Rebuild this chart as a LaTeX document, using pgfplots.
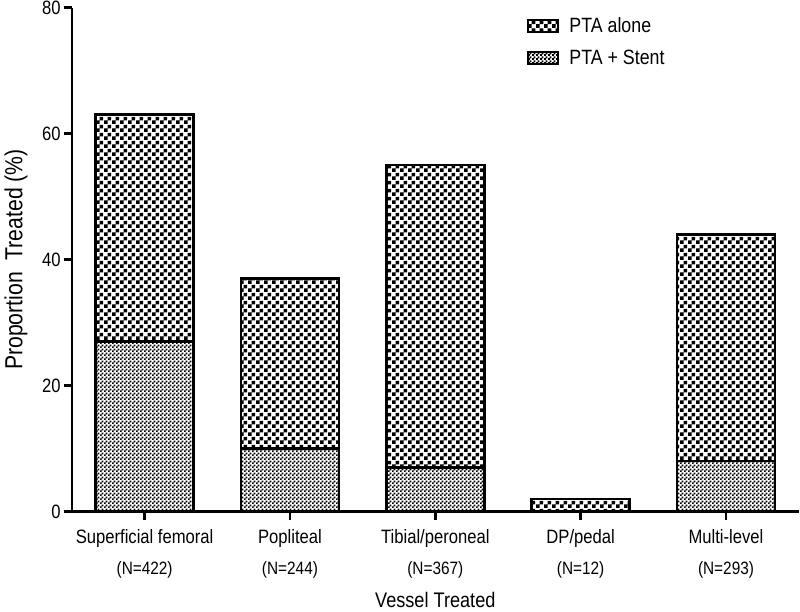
\documentclass[border=0pt]{standalone}
\usepackage{pgfplots}
\pgfplotsset{compat=1.18}
\usepackage{fontspec}
\setmainfont{Liberation Sans}[FakeStretch=0.86]
\usetikzlibrary{patterns}
\pgfdeclarepatternformonly{coarsecheck}{\pgfpointorigin}{\pgfpoint{6pt}{6pt}}{\pgfpoint{6pt}{6pt}}{%
 \pgfpathrectangle{\pgfpointorigin}{\pgfpoint{3pt}{3pt}}%
 \pgfpathrectangle{\pgfpoint{3pt}{3pt}}{\pgfpoint{3pt}{3pt}}%
 \pgfusepath{fill}}
\pgfdeclarepatternformonly{finecheck}{\pgfpointorigin}{\pgfpoint{3pt}{3pt}}{\pgfpoint{3pt}{3pt}}{%
 \pgfpathrectangle{\pgfpointorigin}{\pgfpoint{1.6pt}{1.6pt}}%
 \pgfpathrectangle{\pgfpoint{1.5pt}{1.5pt}}{\pgfpoint{1.6pt}{1.6pt}}%
 \pgfusepath{fill}}
\begin{document}
\begin{tikzpicture}
\begin{axis}[
  scale only axis,
  width=545pt, height=378pt,
  ybar stacked,
  bar width=73.5pt,
  xmin=-0.5, xmax=4.5,
  ymin=0, ymax=80,
  ytick={0,20,40,60,80},
  xtick=data,
  xticklabels={
    {Superficial femoral\\[6.5pt]{\fontsize{13.4}{15}\selectfont (N=422)}},
    {Popliteal\\[6.5pt]{\fontsize{13.4}{15}\selectfont (N=244)}},
    {Tibial/peroneal\\[6.5pt]{\fontsize{13.4}{15}\selectfont (N=367)}},
    {DP/pedal\\[6.5pt]{\fontsize{13.4}{15}\selectfont (N=12)}},
    {Multi-level\\[6.5pt]{\fontsize{13.4}{15}\selectfont (N=293)}}},
  xticklabel style={align=center, font=\fontsize{14.5}{17}\selectfont, yshift=-4pt},
  yticklabel style={font=\fontsize{14.5}{17}\selectfont, xshift=1pt, inner ysep=0.5pt},
  /pgf/number format/assume math mode=true,
  axis x line=bottom, axis y line=left,
  axis line style={-, line width=2pt},
  tick align=outside,
  major tick length=6pt,
  tick style={line width=2pt, black},
  xlabel={Vessel Treated},
  ylabel={Proportion\ \ Treated (\%)},
  xlabel style={font=\fontsize{15.8}{18}\selectfont, at={(rel axis cs:0.5,0)}, anchor=center, yshift=-66pt},
  ylabel style={font=\fontsize{18.5}{21}\selectfont, at={(rel axis cs:0,0.5)}, anchor=center, rotate=0, yshift=42pt},
  legend style={draw=none, at={(0.626,0.985)}, anchor=north west, font=\fontsize{15.5}{18}\selectfont, row sep=7pt, inner sep=0pt},
  legend cell align=left,
  reverse legend,
  legend image code/.code={\draw[#1, line width=1.5pt] (0pt,-4.5pt) rectangle (22.5pt,4.5pt); \path (28pt,0pt);},
  clip=false,
]
\addplot[draw=black, line width=2pt, pattern=finecheck] coordinates {(0,27) (1,10) (2,7) (3,0) (4,8)};
\addlegendentry{PTA + Stent}
\addplot[draw=black, line width=2pt, pattern=coarsecheck] coordinates {(0,36) (1,27) (2,48) (3,2) (4,36)};
\addlegendentry{PTA alone}
\end{axis}
\end{tikzpicture}
\end{document}
